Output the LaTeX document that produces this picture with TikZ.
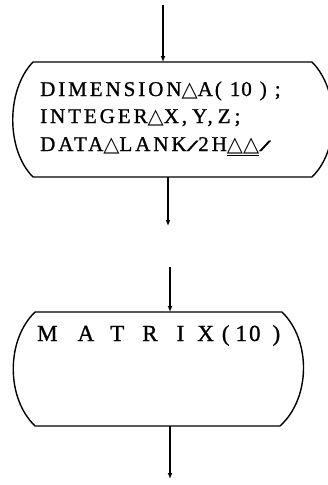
\documentclass[tikz,border=0pt]{standalone}
\usepackage{fontspec}
\setmainfont{Liberation Serif}
\newfontfamily\symfont{DejaVu Sans}
\usetikzlibrary{arrows.meta}
\usetikzlibrary{positioning}
\newcommand{\blank}{{\symfont\char"25B3}}
\newcommand{\wideslash}{\scalebox{2}[0.75]{/}}

\begin{document}
\begin{tikzpicture}[x=1pt,y=-1pt]
\tikzset{flow/.style={line width=1.3pt,-{Latex[length=6pt,width=5pt]}},
  outline/.style={line width=1.4pt},
  code/.style={anchor=base west,inner sep=0pt,font=\fontsize{21}{21}\selectfont\addfontfeatures{LetterSpace=14,FakeBold=1}}}
\useasboundingbox (0,0) rectangle (328,485);
\clip (0,0) rectangle (328,485);
% declaration box
\draw[outline] (33,62) -- (312,62) .. controls (340,90) and (340,150) .. (312,177) -- (33,177) .. controls (6,150) and (6,90) .. cycle;
\node[code] (dim) at (40,96) {DIMENSION\blank A\hspace{2pt}(\hspace{8pt}1\hspace{1pt}0\hspace{8pt})\hspace{8pt};};
\node[code] (int) at (40,123) {INTEGER\blank X,\hspace{5pt}Y,\hspace{5pt}Z\hspace{4pt};};
\node[code] (data) at (40,151) {DATA\blank LANK\wideslash 2H\underline{\blank\blank}\wideslash};
\coordinate (in1) at (163,5);
\coordinate (top1) at (163,62);
\coordinate (bot1) at (168,177);
\coordinate (out1) at (168,226);
\draw[flow] (in1) -- (top1);
\draw[flow] (bot1) -- (out1);
% subroutine box
\draw[outline] (35,312) -- (282,312) .. controls (311,340) and (311,398) .. (280,426) -- (35,426) .. controls (6,398) and (6,340) .. cycle;
\node[code,font=\fontsize{23}{23}\selectfont\addfontfeatures{FakeBold=1}] (mat) at (37,341)
  {M\hspace{20pt}A\hspace{16pt}T\hspace{18pt}R\hspace{19pt}I\hspace{13pt}X\hspace{8pt}(\hspace{6pt}1\hspace{2pt}0\hspace{12pt})};
\coordinate (in2) at (170,267);
\coordinate (top2) at (170,312);
\coordinate (bot2) at (170,426);
\coordinate (out2) at (170,479);
\draw[flow] (in2) -- (top2);
\draw[flow] (bot2) -- (out2);
\end{tikzpicture}
\end{document}
